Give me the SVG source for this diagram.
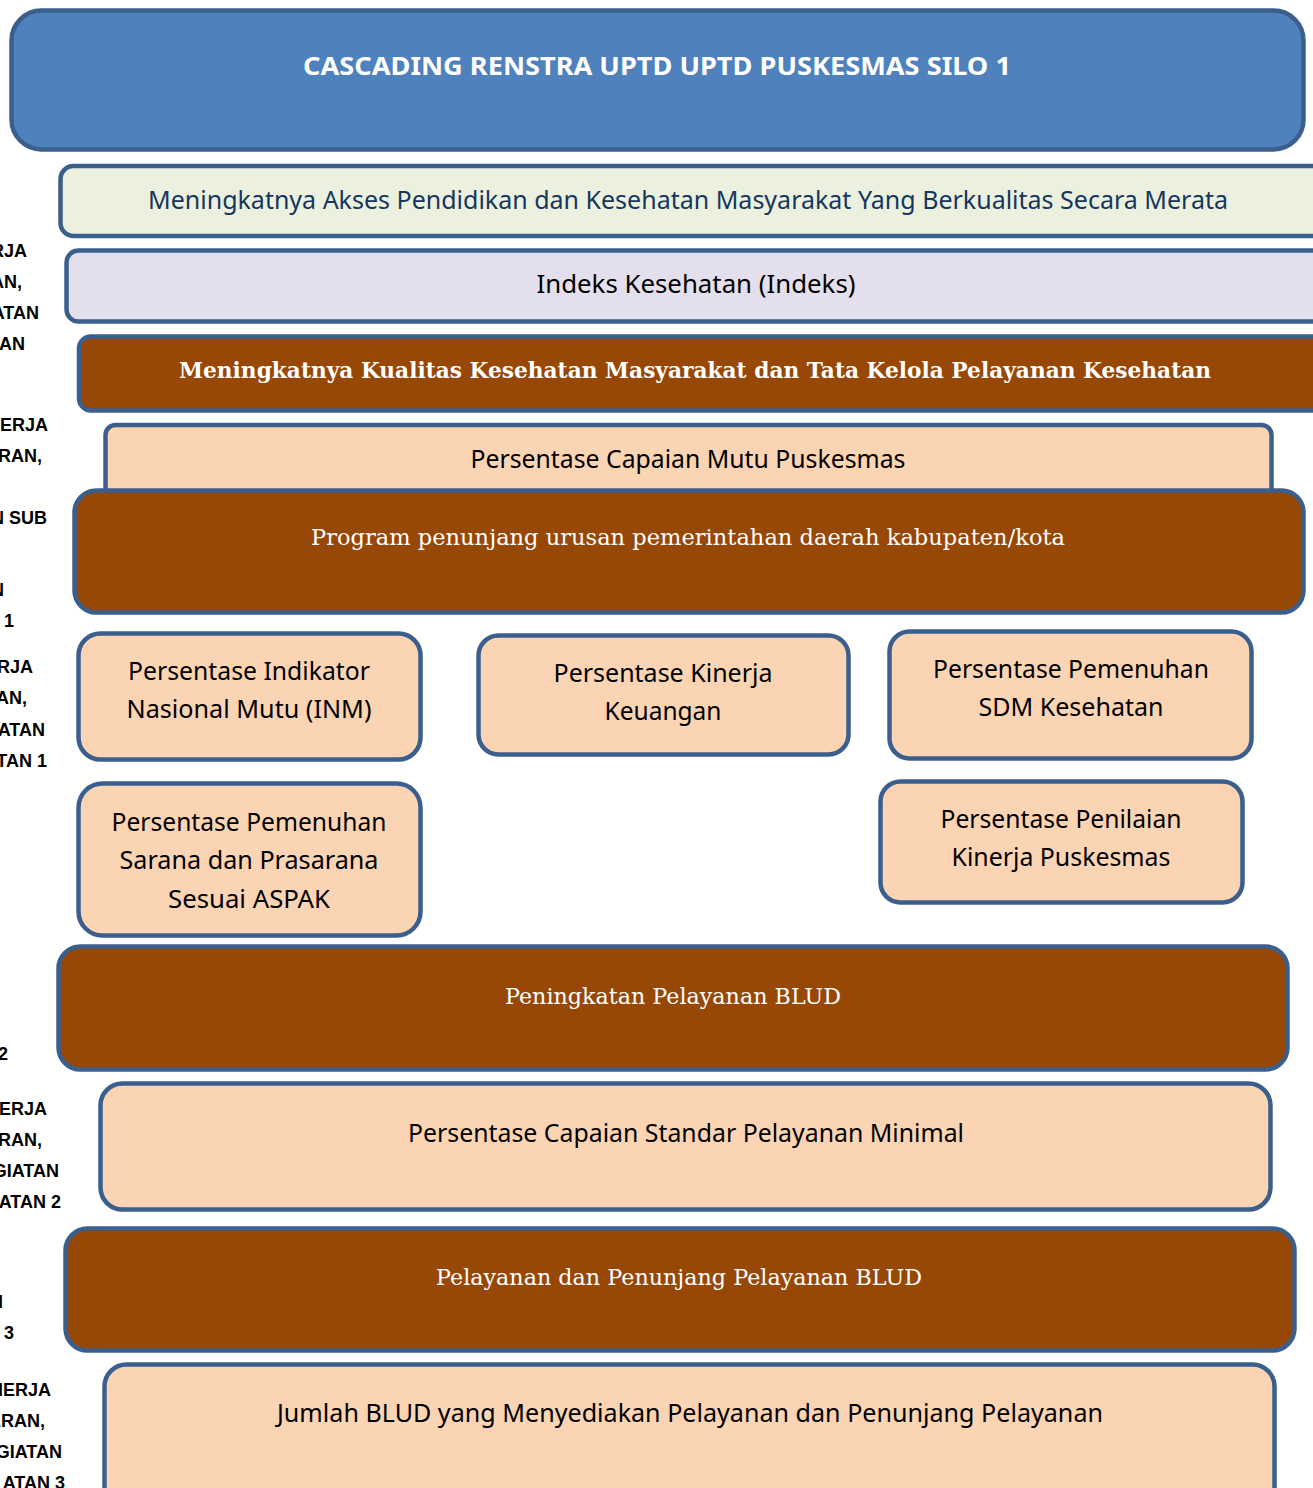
<svg xmlns="http://www.w3.org/2000/svg" width="1313" height="1488" viewBox="0 0 1313 1488">
<style>
.box{stroke:#3B5F8D;stroke-width:4.5}
.blue{fill:#4F81BD}
.green{fill:#EBF1DE}
.lav{fill:#E4DFEC}
.brown{fill:#974706}
.peach{fill:#FBD4B4}
.sans{font-family:"Noto Sans","Open Sans","DejaVu Sans",sans-serif;font-size:25px;fill:#000;text-anchor:middle}
.serif{font-family:"DejaVu Serif","Liberation Serif",serif;font-size:23px;fill:#FFFFFF;text-anchor:middle}
.side{font-family:"Liberation Sans","Noto Sans",sans-serif;font-weight:bold;font-size:18px;fill:#000;text-anchor:end}
</style>
<g id="side-labels">
<text class="side" x="27" y="257">RJA</text>
<text class="side" x="22" y="288">AN,</text>
<text class="side" x="39" y="319">ATAN</text>
<text class="side" x="25" y="350">AN</text>
<text class="side" x="48" y="431">NERJA</text>
<text class="side" x="42" y="462">RAN,</text>
<text class="side" x="47" y="524">N SUB</text>
<text class="side" x="4" y="596">N</text>
<text class="side" x="14" y="627">1</text>
<text class="side" x="33" y="673">RJA</text>
<text class="side" x="27" y="704">AN,</text>
<text class="side" x="45" y="736">ATAN</text>
<text class="side" x="47" y="767">TAN 1</text>
<text class="side" x="8" y="1060">2</text>
<text class="side" x="47" y="1115">NERJA</text>
<text class="side" x="42" y="1146">RAN,</text>
<text class="side" x="59" y="1177">GIATAN</text>
<text class="side" x="61" y="1208">ATAN 2</text>
<text class="side" x="3" y="1308">N</text>
<text class="side" x="14" y="1339">3</text>
<text class="side" x="51" y="1396">NERJA</text>
<text class="side" x="45" y="1427">ARAN,</text>
<text class="side" x="62" y="1458">GIATAN</text>
<text class="side" x="65" y="1489">ATAN 3</text>
</g>
<g id="connectors"></g>
<g id="title">
<rect class="box blue" x="11.5" y="10.5" width="1292" height="139" rx="30"/>
<text x="657" y="75" font-family="'Noto Sans','Open Sans',sans-serif" font-weight="bold" font-size="25" fill="#FFFFFF" text-anchor="middle" textLength="708" lengthAdjust="spacingAndGlyphs">CASCADING RENSTRA UPTD UPTD PUSKESMAS SILO 1</text>
</g>
<g id="tujuan">
<rect class="box green" x="60.5" y="166" width="1270" height="70" rx="13"/>
<text class="sans" x="688" y="209" style="fill:#17365D" textLength="1080" lengthAdjust="spacingAndGlyphs">Meningkatnya Akses Pendidikan dan Kesehatan Masyarakat Yang Berkualitas Secara Merata</text>
</g>
<g id="indeks">
<rect class="box lav" x="66.5" y="250.5" width="1270" height="71" rx="12"/>
<text class="sans" x="696" y="293" textLength="319" lengthAdjust="spacingAndGlyphs">Indeks Kesehatan (Indeks)</text>
</g>
<g id="sasaran">
<rect class="box brown" x="79" y="336.5" width="1250" height="74" rx="12"/>
<text class="serif" x="695" y="378" font-weight="bold" font-size="22" textLength="1032" lengthAdjust="spacingAndGlyphs">Meningkatnya Kualitas Kesehatan Masyarakat dan Tata Kelola Pelayanan Kesehatan</text>
</g>
<g id="capaian-mutu">
<rect class="box peach" x="105.5" y="425" width="1166" height="80" rx="10"/>
<text class="sans" x="688" y="468" textLength="435" lengthAdjust="spacingAndGlyphs">Persentase Capaian Mutu Puskesmas</text>
</g>
<g id="program">
<rect class="box brown" x="74.5" y="490.5" width="1229" height="122" rx="22"/>
<text class="serif" x="688" y="545" textLength="754" lengthAdjust="spacingAndGlyphs">Program penunjang urusan pemerintahan daerah kabupaten/kota</text>
</g>
<g id="inm">
<rect class="box peach" x="78.5" y="633.5" width="342" height="126" rx="22"/>
<text class="sans" x="249" y="680" textLength="242" lengthAdjust="spacingAndGlyphs">Persentase Indikator</text>
<text class="sans" x="249" y="718" textLength="245" lengthAdjust="spacingAndGlyphs">Nasional Mutu (INM)</text>
</g>
<g id="keuangan">
<rect class="box peach" x="478.5" y="635.5" width="370" height="119" rx="20"/>
<text class="sans" x="663" y="682" textLength="219" lengthAdjust="spacingAndGlyphs">Persentase Kinerja</text>
<text class="sans" x="663" y="720" textLength="117" lengthAdjust="spacingAndGlyphs">Keuangan</text>
</g>
<g id="sdm">
<rect class="box peach" x="889.5" y="631.5" width="362" height="127" rx="20"/>
<text class="sans" x="1071" y="678" textLength="276" lengthAdjust="spacingAndGlyphs">Persentase Pemenuhan</text>
<text class="sans" x="1071" y="716" textLength="185" lengthAdjust="spacingAndGlyphs">SDM Kesehatan</text>
</g>
<g id="sarana">
<rect class="box peach" x="78.5" y="783.5" width="342" height="152" rx="24"/>
<text class="sans" x="249" y="831" textLength="275" lengthAdjust="spacingAndGlyphs">Persentase Pemenuhan</text>
<text class="sans" x="249" y="869" textLength="259" lengthAdjust="spacingAndGlyphs">Sarana dan Prasarana</text>
<text class="sans" x="249" y="908" textLength="162" lengthAdjust="spacingAndGlyphs">Sesuai ASPAK</text>
</g>
<g id="penilaian">
<rect class="box peach" x="880.5" y="781.5" width="362" height="121" rx="20"/>
<text class="sans" x="1061" y="828" textLength="241" lengthAdjust="spacingAndGlyphs">Persentase Penilaian</text>
<text class="sans" x="1061" y="866" textLength="219" lengthAdjust="spacingAndGlyphs">Kinerja Puskesmas</text>
</g>
<g id="blud">
<rect class="box brown" x="58.5" y="946.5" width="1229" height="123" rx="22"/>
<text class="serif" x="673" y="1004" textLength="336" lengthAdjust="spacingAndGlyphs">Peningkatan Pelayanan BLUD</text>
</g>
<g id="spm">
<rect class="box peach" x="100.5" y="1083.5" width="1170" height="126" rx="22"/>
<text class="sans" x="686" y="1142" textLength="556" lengthAdjust="spacingAndGlyphs">Persentase Capaian Standar Pelayanan Minimal</text>
</g>
<g id="pelayanan-blud">
<rect class="box brown" x="65.5" y="1228.5" width="1229" height="122" rx="22"/>
<text class="serif" x="679" y="1285" textLength="486" lengthAdjust="spacingAndGlyphs">Pelayanan dan Penunjang Pelayanan BLUD</text>
</g>
<g id="jumlah-blud">
<rect class="box peach" x="104.5" y="1364.5" width="1170" height="150" rx="22"/>
<text class="sans" x="690" y="1422" textLength="826" lengthAdjust="spacingAndGlyphs">Jumlah BLUD yang Menyediakan Pelayanan dan Penunjang Pelayanan</text>
</g>
</svg>
